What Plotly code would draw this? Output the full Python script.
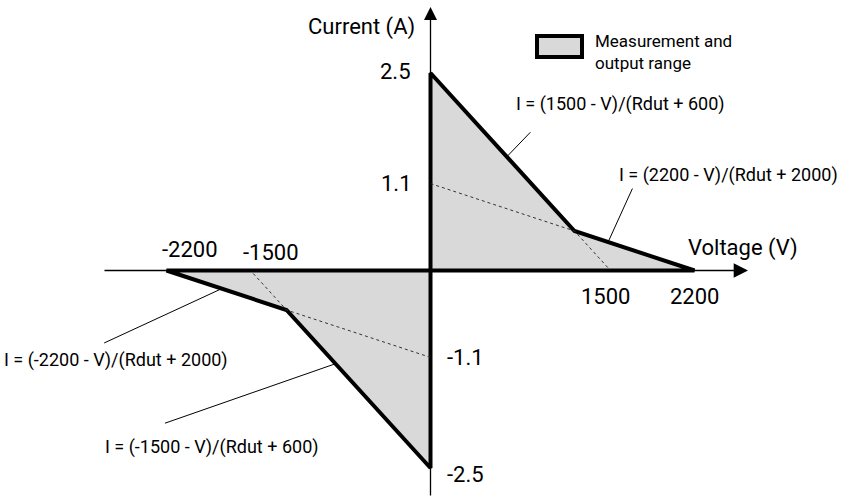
import plotly.graph_objects as go

# ---------------- data ----------------
pos_region_V = [0, 0, 1200, 2200, 0]
pos_region_I = [0, 2.5, 0.5, 0, 0]
neg_region_V = [0, -2200, -1200, 0, 0]
neg_region_I = [0, 0, -0.5, -2.5, 0]

pos_dotted_V = [0, 1200, 1500]
pos_dotted_I = [1.1, 0.5, 0]
neg_dotted_V = [0, -1200, -1500]
neg_dotted_I = [-1.1, -0.5, 0]

x_tick_vals = [-2200, -1500, 1500, 2200]
x_tick_text = ["-2200", "-1500", "1500", "2200"]
y_tick_vals = [2.5, 1.1, -1.1, -2.5]
y_tick_text = ["2.5", "1.1", "-1.1", "-2.5"]

formula_text = [
    "I = (1500 - V)/(Rdut + 600)",
    "I = (2200 - V)/(Rdut + 2000)",
    "I = (-2200 - V)/(Rdut + 2000)",
    "I = (-1500 - V)/(Rdut + 600)",
]
legend_label = "Measurement and<br>output range"
x_title = "Voltage (V)"
y_title = "Current (A)"

# ---------------- layout helpers ----------------
W, H = 845, 497
X0PX, SX = 430.5, 0.12      # pixel of V=0, pixels per volt
Y0PX, SY = 270.5, 79.0      # pixel of I=0, pixels per amp
xr = [-X0PX / SX, (W - X0PX) / SX]
yr = [-(H - Y0PX) / SY, Y0PX / SY]

def px2v(px):
    return (px - X0PX) / SX

def py2i(py):
    return (Y0PX - py) / SY

FONT = "Roboto, 'Liberation Sans', Arial, sans-serif"
FILL = "#d9d9d9"

fig = go.Figure()

for vv, ii in [(pos_region_V, pos_region_I), (neg_region_V, neg_region_I)]:
    fig.add_trace(go.Scatter(x=vv, y=ii, mode="lines", fill="toself",
                             fillcolor=FILL, line=dict(color="black", width=4),
                             hoverinfo="skip", showlegend=False))

for vv, ii in [(pos_dotted_V, pos_dotted_I), (neg_dotted_V, neg_dotted_I)]:
    fig.add_trace(go.Scatter(x=vv, y=ii, mode="lines",
                             line=dict(color="#333333", width=1, dash="dot"),
                             hoverinfo="skip", showlegend=False))

ann = []
# axis arrows
ann.append(dict(x=px2v(748), y=0, ax=px2v(103), ay=0, xref="x", yref="y",
                axref="x", ayref="y", text="", showarrow=True, arrowhead=2,
                arrowsize=2.2, arrowwidth=1.3, arrowcolor="black", standoff=0))
ann.append(dict(x=0, y=py2i(7), ax=0, ay=yr[0], xref="x", yref="y",
                axref="x", ayref="y", text="", showarrow=True, arrowhead=2,
                arrowsize=2.0, arrowwidth=1.3, arrowcolor="black", standoff=0))

# axis titles
ann.append(dict(x=417 / W, y=1 - 27 / H, xref="paper", yref="paper", text=y_title,
                showarrow=False, xanchor="right", yanchor="middle",
                font=dict(family=FONT, size=22, color="black")))
ann.append(dict(x=686 / W, y=1 - 248 / H, xref="paper", yref="paper", text=x_title,
                showarrow=False, xanchor="left", yanchor="middle",
                font=dict(family=FONT, size=22, color="black")))

# x tick labels
x_shifts = [(23, 21), (20, 18), (-5, -26), (0, -26)]
for v, t, (dx, dy) in zip(x_tick_vals, x_tick_text, x_shifts):
    ann.append(dict(x=v, y=0, xref="x", yref="y", text=t, showarrow=False,
                    xanchor="center", yanchor="middle", xshift=dx, yshift=dy,
                    font=dict(family=FONT, size=22, color="black")))
# y tick labels
y_shifts = [("right", -18, 2), ("right", -17, 0), ("left", 14, 0), ("left", 14, -6)]
for v, t, (anc, dx, dy) in zip(y_tick_vals, y_tick_text, y_shifts):
    ann.append(dict(x=0, y=v, xref="x", yref="y", text=t, showarrow=False,
                    xanchor=anc, yanchor="middle", xshift=dx, yshift=dy,
                    font=dict(family=FONT, size=22, color="black")))

# formula labels
formula_pos = [(514, 104), (617, 175), (2, 360), (103, 447)]
for t, (px, py) in zip(formula_text, formula_pos):
    ann.append(dict(x=px / W, y=1 - py / H, xref="paper", yref="paper", text=t,
                    showarrow=False, xanchor="left", yanchor="middle",
                    font=dict(family=FONT, size=18, color="black")))

# leader lines: (segment start idx in region, t along segment, tail offset px)
def seg_point(vv, ii, k, t):
    return vv[k] + t * (vv[k + 1] - vv[k]), ii[k] + t * (ii[k + 1] - ii[k])

leaders = [
    (pos_region_V, pos_region_I, 1, 0.53, 25, -26),
    (pos_region_V, pos_region_I, 2, 0.28, 25, -55),
    (neg_region_V, neg_region_I, 1, 0.46, -119, 55),
    (neg_region_V, neg_region_I, 2, 0.34, -172, 60),
]
for vv, ii, k, t, dx, dy in leaders:
    hx, hy = seg_point(vv, ii, k, t)
    ann.append(dict(x=hx, y=hy, xref="x", yref="y", ax=dx, ay=dy, text="",
                    showarrow=True, arrowhead=0, arrowwidth=1, arrowcolor="black",
                    standoff=0, startstandoff=0))

# legend
ann.append(dict(x=593 / W, y=1 - 52 / H, xref="paper", yref="paper", text=legend_label,
                showarrow=False, xanchor="left", yanchor="middle", align="left",
                font=dict(family=FONT, size=17, color="black")))

shapes = [dict(type="rect", xref="paper", yref="paper",
               x0=537 / W, x1=582 / W, y0=1 - 57 / H, y1=1 - 36 / H,
               fillcolor=FILL, line=dict(color="black", width=4))]

fig.update_layout(
    width=W, height=H, margin=dict(l=0, r=0, t=0, b=0),
    paper_bgcolor="white", plot_bgcolor="white",
    xaxis=dict(range=xr, visible=False, fixedrange=True),
    yaxis=dict(range=yr, visible=False, fixedrange=True),
    annotations=ann, shapes=shapes, showlegend=False,
)

fig.write_html("out.html")
